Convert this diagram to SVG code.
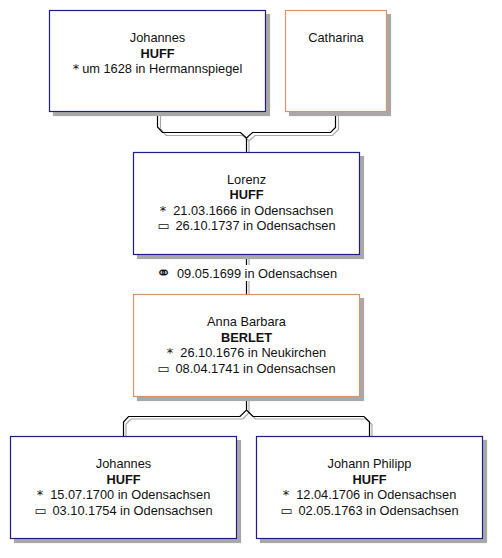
<svg xmlns="http://www.w3.org/2000/svg" width="502" height="558" viewBox="0 0 502 558">
<defs>
<filter id="ds" x="-5%" y="-5%" width="115%" height="120%">
<feFlood flood-color="#a8a8a8" result="c"/>
<feComposite in="c" in2="SourceAlpha" operator="in" result="s"/>
<feOffset in="s" dx="4" dy="4" result="o"/>
<feMerge><feMergeNode in="o"/><feMergeNode in="SourceGraphic"/></feMerge>
</filter>
<style>
.m{fill:#fff;stroke:#1c1c8c;stroke-width:1.2;filter:url(#ds)}
.f{fill:#fff;stroke:#d8936c;stroke-width:1.2;filter:url(#ds)}
text{font-family:"Liberation Sans",Arial,"DejaVu Sans",sans-serif;font-size:12.8px;fill:#111;text-anchor:middle}
.b{font-weight:bold}
.s{font-family:"DejaVu Sans",sans-serif}
.cb{fill:none;stroke:#000;stroke-width:1.2}
.cg{fill:none;stroke:#a8a8a8;stroke-width:1.2}
</style>
</defs>
<rect width="502" height="558" fill="#fff"/>
<g id="connectors">
<path class="cg" d="M160.5,112 V129 L166,135.5 H242.5 L249,141 L255,135.5 H332.5 L338.5,129.5 V112 M249,141 V152"/>
<path class="cb" d="M157.5,112 V127 L162.5,132.5 H240.5 L246.5,138 L252.5,132.5 H330.5 L335.5,127.5 V112 M246.5,138 V152"/>
<path class="cg" d="M249,254.5 V294.5"/>
<path class="cb" d="M246.5,254.5 V294.5"/>
<path class="cg" d="M126,436 V424 L131,419 H243 L249,412.5 L255.5,419 H366 L372,424.5 V436 M249,397 V412.5"/>
<path class="cb" d="M123.5,436 V422 L128.5,416.5 H240 L246.5,410 L253,416.5 H364 L369.5,422 V436 M246.5,397 V410"/>
<rect x="152" y="265" width="190" height="16" fill="#fff"/>
<text x="246.5" y="277.5"><tspan class="s" style="font-size:18px" dy="1">⚭</tspan><tspan dx="6" dy="-1">09.05.1699 in Odensachsen</tspan></text>
</g>
<g id="johannes1">
<rect class="m" x="49.5" y="10.5" width="216" height="101"/>
<text x="157.5" y="42">Johannes</text>
<text class="b" x="157.5" y="57.5">HUFF</text>
<text x="157.5" y="73"><tspan class="s">*</tspan><tspan dx="3">um 1628 in Hermannspiegel</tspan></text>
</g>
<g id="catharina">
<rect class="f" x="285.5" y="10.5" width="101" height="101"/>
<text x="336" y="42">Catharina</text>
</g>
<g id="lorenz">
<rect class="m" x="133.5" y="152.5" width="226" height="102"/>
<text x="246.5" y="183.5">Lorenz</text>
<text class="b" x="246.5" y="199">HUFF</text>
<text x="246.5" y="214.5"><tspan class="s">*</tspan><tspan dx="7">21.03.1666 in Odensachsen</tspan></text>
<text x="246.5" y="230"><tspan class="s">▭</tspan><tspan dx="6">26.10.1737 in Odensachsen</tspan></text>
</g>
<g id="anna">
<rect class="f" x="133.5" y="294.5" width="226" height="102"/>
<text x="246.5" y="326">Anna Barbara</text>
<text class="b" x="246.5" y="341.5">BERLET</text>
<text x="246.5" y="357"><tspan class="s">*</tspan><tspan dx="7">26.10.1676 in Neukirchen</tspan></text>
<text x="246.5" y="372.5"><tspan class="s">▭</tspan><tspan dx="6">08.04.1741 in Odensachsen</tspan></text>
</g>
<g id="johannes2">
<rect class="m" x="10.5" y="436.5" width="226" height="102"/>
<text x="123.5" y="468">Johannes</text>
<text class="b" x="123.5" y="483.5">HUFF</text>
<text x="123.5" y="499"><tspan class="s">*</tspan><tspan dx="7">15.07.1700 in Odensachsen</tspan></text>
<text x="123.5" y="514.5"><tspan class="s">▭</tspan><tspan dx="6">03.10.1754 in Odensachsen</tspan></text>
</g>
<g id="johannphilipp">
<rect class="m" x="256.5" y="436.5" width="226" height="102"/>
<text x="369.5" y="468">Johann Philipp</text>
<text class="b" x="369.5" y="483.5">HUFF</text>
<text x="369.5" y="499"><tspan class="s">*</tspan><tspan dx="7">12.04.1706 in Odensachsen</tspan></text>
<text x="369.5" y="514.5"><tspan class="s">▭</tspan><tspan dx="6">02.05.1763 in Odensachsen</tspan></text>
</g>
</svg>
